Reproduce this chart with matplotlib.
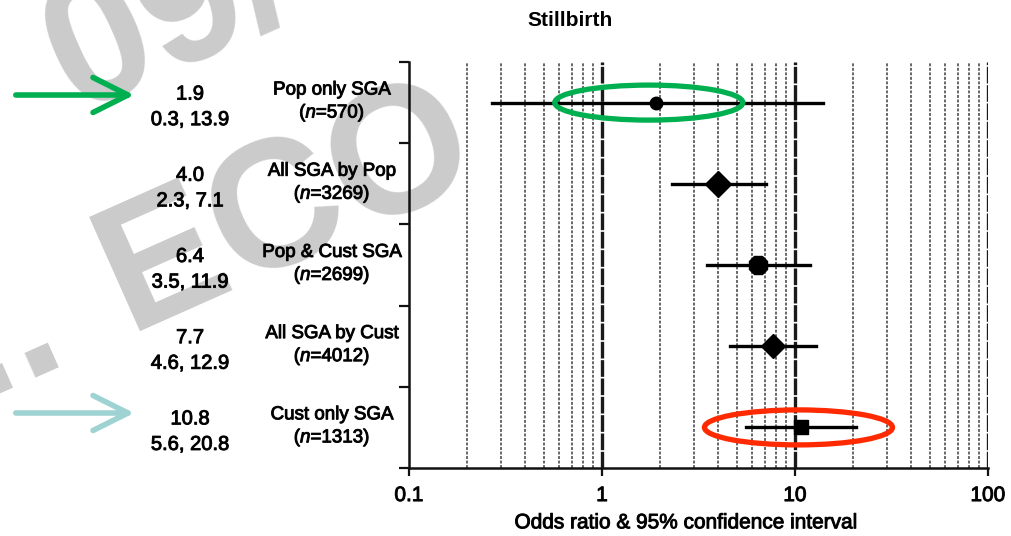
import matplotlib
matplotlib.use("Agg")
import matplotlib.pyplot as plt
import matplotlib.patheffects as pe
import numpy as np
from matplotlib.patches import Ellipse, FancyArrowPatch
from matplotlib.transforms import blended_transform_factory, IdentityTransform

# ---------------- data ----------------
groups = ["Pop only SGA", "All SGA by Pop", "Pop & Cust SGA", "All SGA by Cust", "Cust only SGA"]
n_values = [570, 3269, 2699, 4012, 1313]
odds_ratio = [1.9, 4.0, 6.4, 7.7, 10.8]
ci_low = [0.27, 2.3, 3.5, 4.6, 5.6]
ci_high = [13.9, 7.1, 11.9, 12.9, 20.8]
x_ticks = [0.1, 1, 10, 100]
x_tick_labels = ["0.1", "1", "10", "100"]

# ---------------- styles ----------------
plt.rcParams['font.family'] = ['Liberation Sans', 'DejaVu Sans']
plt.rcParams['mathtext.fontset'] = 'custom'
plt.rcParams['mathtext.it'] = 'Liberation Sans:italic'
plt.rcParams['mathtext.rm'] = 'Liberation Sans'

heavy = [pe.withStroke(linewidth=0.7, foreground='#111111')]

W, H = 1011, 536
fig = plt.figure(figsize=(W / 100, H / 100), dpi=100)
fig.patch.set_facecolor('white')

def fx(px):
    return px / W

def fy(py):
    return 1 - py / H

ax_left, ax_right, ax_top, ax_bottom = 409, 988, 62, 468
ax = fig.add_axes([fx(ax_left), fy(ax_bottom), fx(ax_right - ax_left), (ax_bottom - ax_top) / H])
ax.patch.set_alpha(0)
ax.set_xscale('log')
ax.set_xlim(0.1, 100)
ax.set_ylim(len(groups), 0)

for s in ['top', 'right']:
    ax.spines[s].set_visible(False)
for s in ['left', 'bottom']:
    ax.spines[s].set_linewidth(1.8)
    ax.spines[s].set_color('#111111')

ax.set_yticks(np.arange(len(groups) + 1))
ax.set_yticklabels([])
ax.tick_params(axis='y', direction='out', length=7, width=1.6, color='#111111')
ax.set_xticks(x_ticks)
ax.set_xticklabels(x_tick_labels, fontsize=15)
for t in ax.get_xticklabels():
    t.set_path_effects(heavy)
ax.tick_params(axis='x', which='major', direction='out', length=6, width=1.6, color='#111111', pad=7)
ax.tick_params(axis='x', which='minor', length=0)

# grid lines
for dec in [0.1, 1, 10]:
    for m in range(2, 10):
        ax.axvline(dec * m, color='#5a5a5a', lw=1.3, ls=(0, (1.6, 0.9)), zorder=1)
for v in [1, 10, 100]:
    ax.axvline(v, color='#1a1a1a', lw=2.4, ls=(0, (5, 0.5)), zorder=1)

markers = ['o', 'D', '8', 'D', 's']
msizes = [9, 13, 14, 12, 10]
rows = np.arange(len(groups)) + 0.5
for i in range(len(groups)):
    ax.plot([ci_low[i], ci_high[i]], [rows[i], rows[i]], color='black', lw=2.4, zorder=3)
    ax.plot(odds_ratio[i], rows[i], marker=markers[i], ms=msizes[i], color='black', zorder=4)

xl = ax.set_xlabel("Odds ratio & 95% confidence interval", fontsize=15)
xl.set_path_effects(heavy)
xl.set_verticalalignment('center')
ax.xaxis.set_label_coords(0.479, -0.135)
fig.text(fx(570), fy(21), "Stillbirth", fontsize=15, fontweight='bold', ha='center', va='center')

# left text columns
bt = blended_transform_factory(fig.transFigure, ax.transData)
for i in range(len(groups)):
    kw = dict(transform=bt, ha='center', va='center', clip_on=False, path_effects=heavy)
    ax.text(fx(190), rows[i] - 0.105, f"{odds_ratio[i]:.1f}", fontsize=14.5, **kw)
    ax.text(fx(190), rows[i] + 0.21, f"{ci_low[i]:.1f}, {ci_high[i]:.1f}", fontsize=14.5, **kw)
    ax.text(fx(332), rows[i] - 0.155, groups[i], fontsize=13.5, **kw)
    ax.text(fx(332), rows[i] + 0.13, "($\\mathit{n}$=" + str(n_values[i]) + ")", fontsize=13.5, **kw)

# watermark
wm_kw = dict(rotation=24, rotation_mode='anchor', fontsize=130, fontweight='bold',
             color='#cbcbcb', zorder=-1, va='baseline')
fig.text(fx(128), fy(331), "ECO", ha='left', **wm_kw)
fig.text(fx(70), fy(357), "...", ha='right', **wm_kw)
fig.text(fx(74), fy(112), "09/", ha='left', **wm_kw)

# highlight ellipses around rows 1 and 5
fig.canvas.draw()
for i, col, dx in [(0, '#00b050', -7), (4, '#ff2a00', -3)]:
    cx, cy = ax.transData.transform((odds_ratio[i], rows[i]))
    e = Ellipse((cx + dx, cy), 188, 35, transform=IdentityTransform(), fill=False,
                edgecolor=col, lw=3.8, zorder=6)
    fig.add_artist(e)

# arrows
for y, col in [(95, '#00b050'), (413, '#9fd3d3')]:
    fig.add_artist(FancyArrowPatch(
        (fx(13), fy(y)), (fx(137), fy(y)), transform=fig.transFigure,
        arrowstyle='->,head_length=0.9,head_width=0.45', mutation_scale=28,
        color=col, lw=4.0, capstyle='round', joinstyle='round', zorder=6))

fig.savefig("out.png", dpi=100)
